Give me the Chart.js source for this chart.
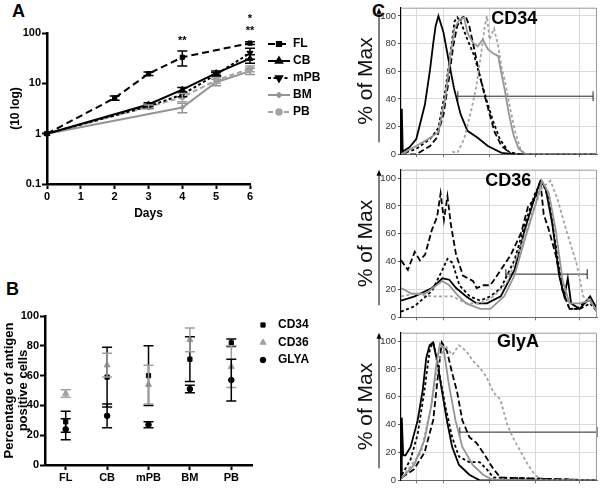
<!DOCTYPE html>
<html>
<head>
<meta charset="utf-8">
<script src="https://cdn.jsdelivr.net/npm/chart.js@4.4.1/dist/chart.umd.min.js"></script>
<style>
  body { margin: 0; width: 600px; height: 488px; background: #fff; position: relative; overflow: hidden;
         font-family: "Liberation Sans", Arial, sans-serif; }
  canvas { position: absolute; }
  .tag { position: absolute; font-weight: bold; font-size: 18px; line-height: 18px; }
</style>
</head>
<body>
<div class="tag" style="left:12px;top:2px">A</div>
<div class="tag" style="left:6px;top:280px">B</div>
<div class="tag" style="left:372px;top:2px">C</div>
<canvas id="chartA" width="340" height="240" style="left:0;top:0"></canvas>
<canvas id="chartB" width="340" height="208" style="left:0;top:280px"></canvas>
<canvas id="chartC1" width="245" height="162" style="left:355px;top:0"></canvas>
<canvas id="chartC2" width="245" height="163" style="left:355px;top:162px"></canvas>
<canvas id="chartC3" width="245" height="163" style="left:355px;top:325px"></canvas>
<script>
// ---- panel A : fold expansion (log) ----
const flDays = [0, 2, 3, 4, 6];
const flFold = [1, 5.1, 15.5, 33, 63];
const flErr = [0, 0.5, 1.2, 11, 4];
const cbDays = [0, 3, 4, 5, 6];
const cbFold = [1, 3.8, 7.5, 16, 31];
const cbErr = [0, 0.3, 0.8, 1.5, 6];
const mpbDays = [0, 3, 4, 5, 6];
const mpbFold = [1, 3.5, 6, 15, 40];
const mpbErr = [0, 0.3, 0.6, 1.5, 10];
const bmDays = [0, 4, 5, 6];
const bmFold = [1, 3.3, 10.5, 17.5];
const bmErr = [0, 0.7, 1.5, 2.5];
const pbDays = [0, 3, 4, 5, 6];
const pbFold = [1, 3.4, 5.3, 11.5, 19.5];
const pbErr = [0, 0.3, 1, 1.5, 2.5];
const yTicksA = [0.1, 1, 10, 100];
const starDays = [4, 6, 6];
const starText = ["**", "*", "**"];
const starLevel = [70, 190, 108];

// ---- panel B : antigen positive cells ----
const sources = ["FL", "CB", "mPB", "BM", "PB"];
const cd34Pct = [29, 59, 60, 71, 82];
const cd34Sd = [7, 20, 20, 15, 2.5];
const cd36Pct = [48, 67, 54, 84, 66];
const cd36Sd = [2.5, 8, 13, 8, 14];
const glyaPct = [24, 33, 27, 51, 57];
const glyaSd = [7, 8, 2, 2.5, 14];

// ---- panel C : histograms (% of max) ----
const gridC = [8, 21.5, 45, 68.5, 91];
const yTicksC = [0, 20, 40, 60, 80, 100];

const cd34SolidX = [0, 0.4, 0.9, 4.3, 7.8, 12.2, 14.8, 16.5, 17.7, 19.1, 21.7, 24.3, 27, 30.4, 33.9, 39.1, 44.3, 51.3, 58.3, 65.2, 100];
const cd34SolidY = [1, 33, 2, 5, 11, 36, 61, 81, 93, 100, 88, 68, 48, 29, 17, 12, 6, 1, 0, 0, 0];
const cd34LongX = [0, 7.8, 14.8, 18.3, 21.7, 24.3, 26.6, 28.7, 31.3, 33, 34.8, 37.4, 40, 42.6, 45.2, 47.8, 51.3, 56.5, 61.7, 100];
const cd34LongY = [0, 0, 6, 12, 29, 53, 78, 93, 99, 100, 93, 76, 58, 43, 29, 16, 6, 0, 0, 0];
const cd34ShortX = [0, 7.8, 14.8, 19.1, 22.6, 25.2, 27.3, 28.7, 30.4, 33.9, 37.4, 40.9, 44.3, 47, 50.4, 54.8, 60, 100];
const cd34ShortY = [0, 4, 11, 19, 46, 73, 96, 99, 96, 83, 71, 53, 36, 24, 11, 2, 0, 0];
const cd34GreyX = [0, 7.8, 13.9, 19.1, 22.6, 25.2, 27.3, 29.6, 32.2, 33.9, 36.5, 39.1, 41.7, 44.3, 47, 49.6, 51.3, 53, 54.8, 57.4, 60, 63.5, 72.2, 100];
const cd34GreyY = [0, 6, 11, 16, 41, 71, 91, 97, 99, 88, 81, 78, 83, 76, 73, 71, 58, 46, 31, 14, 4, 0, 0, 0];
const cd34GreyDashX = [26.1, 28.7, 32.2, 35.7, 38.3, 40.9, 42.6, 43.8, 45.2, 47.5, 49.6, 51.3, 53, 55.7, 58.3, 60.9, 63.5, 100];
const cd34GreyDashY = [2, 1, 11, 31, 48, 73, 91, 100, 83, 91, 78, 63, 53, 33, 16, 4, 0, 0];
const cd34Gate = [29, 98, 42];

const cd36LongX = [0, 3.5, 7, 9.6, 12.3, 15.8, 18.4, 20.2, 21.9, 23.7, 25.4, 28.1, 31.6, 36.8, 38.6, 42.1, 45.6, 50.9, 56.1, 61.4, 64.9, 68.4, 71.1, 72.8, 75.4, 78.9, 82.5, 86, 89.5, 93, 96.5, 100];
const cd36LongY = [41, 34, 47, 41, 45, 63, 72, 89, 70, 87, 67, 45, 30, 26, 21, 23, 23, 34, 45, 61, 80, 85, 98, 74, 63, 45, 19, 6, 6, 10, 12, 4];
const cd36ShortX = [0, 7, 15.8, 21.1, 23.7, 26.3, 29.8, 35.1, 40.4, 45.6, 50.9, 57.9, 63.2, 68.4, 71.9, 75.4, 78.9, 82.5, 86, 91.2, 96.5, 100];
const cd36ShortY = [4, 8, 19, 34, 42, 39, 23, 15, 12, 15, 21, 41, 67, 89, 98, 85, 52, 19, 6, 6, 10, 4];
const cd36SolidX = [0, 7, 15.8, 21.1, 24.6, 28.1, 33.3, 38.6, 43.9, 50.9, 57.9, 63.2, 68.4, 71.1, 73.7, 77.2, 80.7, 83.3, 85.1, 86.8, 91.2, 96.5, 100];
const cd36SolidY = [12, 15, 21, 28, 27, 21, 15, 10, 10, 15, 34, 63, 87, 98, 93, 67, 30, 15, 28, 10, 6, 15, 6];
const cd36GreyX = [0, 5.3, 12.3, 21.1, 24.6, 28.1, 33.3, 40.4, 45.6, 52.6, 57.9, 63.2, 68.4, 71.9, 75.4, 78.9, 82.5, 86, 91.2, 96.5, 100];
const cd36GreyY = [21, 17, 17, 26, 23, 17, 10, 6, 6, 15, 30, 56, 80, 98, 89, 63, 26, 10, 10, 12, 4];
const cd36GreyDashX = [0, 7, 15.8, 26.3, 33.3, 40.4, 47.4, 54.4, 61.4, 66.7, 71.9, 76.3, 79.8, 84.2, 89.5, 93, 96.5, 100];
const cd36GreyDashY = [15, 17, 15, 15, 10, 10, 15, 26, 52, 74, 93, 98, 85, 63, 39, 15, 12, 4];
const cd36Gate = [53.5, 95, 31];

const glyaSolidX = [0, 0.4, 1.1, 2.3, 4.9, 8.5, 11.1, 12.9, 14.6, 16.4, 18.1, 20.8, 23.4, 26.1, 29.6, 34.9, 40.1, 100];
const glyaSolidY = [2, 45, 18, 18, 24, 43, 65, 88, 97, 99, 88, 65, 43, 24, 11, 4, 0, 0];
const glyaShortX = [0.5, 4.9, 8.5, 12, 14.8, 16.5, 19, 22.5, 26.1, 29.6, 34.9, 40.1, 43.7, 47.2, 100];
const glyaShortY = [4, 15, 33, 65, 95, 99, 81, 54, 31, 17, 13, 13, 8, 2, 0];
const glyaGreyX = [0.5, 6.7, 12, 15.5, 18.1, 19.9, 21.7, 24.3, 27.8, 31.3, 36.6, 41.9, 47.2, 100];
const glyaGreyY = [2, 11, 29, 54, 84, 98, 95, 70, 43, 24, 11, 4, 0, 0];
const glyaLongX = [0.5, 6.7, 12, 16.4, 19, 20.8, 23.4, 26.1, 28.7, 31.3, 34.9, 38.4, 42.8, 47.2, 50.7, 100];
const glyaLongY = [2, 8, 20, 43, 77, 99, 93, 77, 63, 43, 31, 27, 18, 8, 2, 0];
const glyaGreyDashX = [0.5, 10.2, 15.5, 19, 22.5, 26.1, 29.6, 33.1, 36.6, 40.1, 43.7, 47.2, 50.7, 54.2, 57.7, 61.3, 64.8, 68.3, 71.8, 100];
const glyaGreyDashY = [2, 20, 54, 84, 97, 90, 97, 93, 86, 81, 74, 63, 58, 40, 29, 20, 11, 4, 0, 0];
const glyaGate = [30, 100, 34.6];

const fontName = "'Liberation Sans', Arial, sans-serif";
Chart.defaults.font.family = fontName;
Chart.defaults.color = "#000";
Chart.defaults.animation = false;

const black = "#000";
const grey = "#959595";
const greyDash = "#a3a3a3";
const longDash = [6, 3];
const shortDash = [3, 2.5];

const toPts = (xs, ys) => xs.map((x, i) => ({ x: x, y: ys[i] }));

// vertical error bars from ds.errors
const errorBars = {
  id: "errorBars",
  afterDatasetsDraw(chart) {
    const ctx = chart.ctx;
    const ys = chart.scales.y;
    chart.data.datasets.forEach((ds, i) => {
      if (!ds.errors) return;
      const meta = chart.getDatasetMeta(i);
      ctx.save();
      ctx.strokeStyle = ds.borderColor;
      ctx.lineWidth = 1.5;
      ctx.setLineDash([]);
      meta.data.forEach((pt, j) => {
        const e = ds.errors[j];
        if (!e) return;
        const raw = ds.data[j];
        const v = typeof raw === "object" ? raw.y : raw;
        const top = ys.getPixelForValue(v + e);
        const bot = ys.getPixelForValue(v - e);
        ctx.beginPath();
        ctx.moveTo(pt.x, top); ctx.lineTo(pt.x, bot);
        ctx.moveTo(pt.x - 5, top); ctx.lineTo(pt.x + 5, top);
        ctx.moveTo(pt.x - 5, bot); ctx.lineTo(pt.x + 5, bot);
        ctx.stroke();
      });
      ctx.restore();
    });
  }
};

// legend drawn beside the plot, with line sample + marker
const sideLegend = {
  id: "sideLegend",
  afterDraw(chart, args, opts) {
    const ctx = chart.ctx;
    ctx.save();
    chart.data.datasets.forEach((ds, i) => {
      const y = opts.y + i * opts.gap;
      if (opts.lineLen) {
        ctx.strokeStyle = ds.borderColor;
        ctx.lineWidth = 2;
        ctx.setLineDash(ds.borderDash || []);
        ctx.beginPath();
        ctx.moveTo(opts.x, y); ctx.lineTo(opts.x + opts.lineLen, y);
        ctx.stroke();
        ctx.setLineDash([]);
      }
      ctx.fillStyle = ds.pointBackgroundColor;
      ctx.strokeStyle = ds.pointBorderColor;
      Chart.helpers.drawPoint(ctx, {
        pointStyle: ds.pointStyle, rotation: ds.pointRotation || 0,
        radius: ds.pointRadius, borderWidth: 1
      }, opts.x + (opts.lineLen || 0) / 2, y);
      ctx.fillStyle = "#000";
      ctx.font = "bold 12px " + fontName;
      ctx.textBaseline = "middle";
      ctx.textAlign = "left";
      ctx.fillText(ds.label, opts.textX, y);
    });
    ctx.restore();
  }
};

// significance stars of panel A
const stars = {
  id: "stars",
  afterDraw(chart) {
    const ctx = chart.ctx;
    ctx.save();
    ctx.font = "bold 11px " + fontName;
    ctx.textAlign = "center";
    ctx.textBaseline = "middle";
    ctx.fillStyle = "#000";
    starDays.forEach((d, i) => {
      ctx.fillText(starText[i], chart.scales.x.getPixelForValue(d), chart.scales.y.getPixelForValue(starLevel[i]));
    });
    ctx.restore();
  }
};

function seriesA(label, days, fold, err, color, dash, style, radius, rot) {
  return {
    label: label,
    data: toPts(days, fold),
    errors: err,
    borderColor: color,
    borderDash: dash,
    borderWidth: 2,
    pointStyle: style,
    pointRadius: radius,
    pointRotation: rot || 0,
    pointBackgroundColor: color,
    pointBorderColor: color,
    pointBorderWidth: 1,
    tension: 0,
    clip: false
  };
}

new Chart(document.getElementById("chartA"), {
  type: "line",
  data: {
    datasets: [
      seriesA("FL", flDays, flFold, flErr, black, [7, 4], "rect", 3),
      seriesA("CB", cbDays, cbFold, cbErr, black, [], "triangle", 3.5),
      seriesA("mPB", mpbDays, mpbFold, mpbErr, black, [3, 2.5], "triangle", 3.5, 180),
      seriesA("BM", bmDays, bmFold, bmErr, grey, [], "rectRot", 2.2),
      seriesA("PB", pbDays, pbFold, pbErr, greyDash, [5, 3], "circle", 2.7)
    ]
  },
  options: {
    responsive: false,
    layout: { autoPadding: false, padding: { top: 33, right: 90, left: 0, bottom: 0 } },
    plugins: {
      legend: { display: false },
      tooltip: { enabled: false },
      sideLegend: { x: 268, lineLen: 22, textX: 293, y: 44, gap: 17 }
    },
    scales: {
      x: {
        type: "linear", min: 0, max: 6,
        afterFit: (s) => { s.height = 56; },
        ticks: { stepSize: 1, padding: 1, font: { size: 11, weight: "bold" } },
        grid: { drawOnChartArea: false, tickLength: 5, tickWidth: 2, tickColor: "#000" },
        border: { color: "#000", width: 2.5 },
        title: { display: true, text: "Days", font: { size: 12, weight: "bold" }, padding: { top: 0, bottom: 19 } }
      },
      y: {
        type: "logarithmic", min: 0.1, max: 100,
        afterFit: (s) => { s.width = 47; },
        afterBuildTicks: (s) => { s.ticks = yTicksA.map((v) => ({ value: v })); },
        ticks: { padding: 1, font: { size: 11, weight: "bold" }, callback: (v) => String(v) },
        grid: { drawOnChartArea: false, tickLength: 5, tickWidth: 2, tickColor: "#000" },
        border: { color: "#000", width: 2.5 },
        title: { display: true, text: "(10 log)", font: { size: 12, weight: "bold" }, padding: { top: 8 } }
      }
    }
  },
  plugins: [errorBars, sideLegend, stars]
});

function seriesB(label, vals, sd, color, style, radius) {
  return {
    label: label,
    data: vals,
    errors: sd,
    showLine: false,
    borderColor: color,
    pointStyle: style,
    pointRadius: radius,
    pointBackgroundColor: color,
    pointBorderColor: color,
    pointBorderWidth: 1,
    clip: false
  };
}

new Chart(document.getElementById("chartB"), {
  type: "line",
  data: {
    labels: sources,
    datasets: [
      seriesB("CD34", cd34Pct, cd34Sd, black, "rect", 3),
      seriesB("CD36", cd36Pct, cd36Sd, "#a0a0a0", "triangle", 3.5),
      seriesB("GLYA", glyaPct, glyaSd, black, "circle", 2.8)
    ]
  },
  options: {
    responsive: false,
    layout: { autoPadding: false, padding: { top: 36, right: 88, left: 0, bottom: 0 } },
    plugins: {
      legend: { display: false },
      tooltip: { enabled: false },
      sideLegend: { x: 263, lineLen: 0, textX: 278, y: 45, gap: 17.5 }
    },
    scales: {
      x: {
        type: "category", offset: true,
        afterFit: (s) => { s.height = 23; },
        ticks: { padding: 1, font: { size: 11, weight: "bold" } },
        grid: { offset: false, drawOnChartArea: false, tickLength: 5, tickWidth: 2, tickColor: "#000" },
        border: { color: "#000", width: 2.5 }
      },
      y: {
        min: 0, max: 100,
        afterFit: (s) => { s.width = 45; },
        ticks: { stepSize: 20, padding: 1, font: { size: 11, weight: "bold" } },
        grid: { drawOnChartArea: false, tickLength: 5, tickWidth: 2, tickColor: "#000" },
        border: { color: "#000", width: 2.5 },
        title: {
          display: true, text: ["Percentage of antigen", "positive cells"],
          font: { size: 13, weight: "bold", lineHeight: 1.05 }, padding: { top: 3 }
        }
      }
    }
  },
  plugins: [errorBars, sideLegend]
});

// frame, y-title arrow and marker label of the histograms
const histDecor = {
  id: "histDecor",
  afterDraw(chart, args, opts) {
    const ctx = chart.ctx;
    const a = chart.chartArea;
    ctx.save();
    ctx.strokeStyle = "#9a9a9a";
    ctx.lineWidth = 1;
    ctx.beginPath();
    ctx.moveTo(a.left, a.top + 0.5); ctx.lineTo(a.right - 0.5, a.top + 0.5); ctx.lineTo(a.right - 0.5, a.bottom);
    ctx.stroke();
    ctx.strokeStyle = "#000";
    ctx.fillStyle = "#000";
    ctx.beginPath();
    ctx.moveTo(24, a.bottom - 12); ctx.lineTo(24, a.top + 4);
    ctx.stroke();
    ctx.beginPath();
    ctx.moveTo(24, a.top); ctx.lineTo(21.5, a.top + 6); ctx.lineTo(26.5, a.top + 6);
    ctx.closePath(); ctx.fill();
    ctx.font = "bold 18px " + fontName;
    ctx.textAlign = "left";
    ctx.textBaseline = "middle";
    ctx.fillText(opts.text, chart.scales.x.getPixelForValue(opts.x), chart.scales.y.getPixelForValue(opts.y));
    ctx.restore();
  }
};

function curve(xs, ys, color, dash) {
  return { data: toPts(xs, ys), borderColor: color, borderDash: dash, borderWidth: 1.8,
           pointRadius: 0, tension: 0, fill: false };
}

function histChart(id, curves, gate, label, padTop, axisH) {
  const gateDs = {
    data: [{ x: gate[0], y: gate[2] }, { x: gate[1], y: gate[2] }],
    borderColor: "#222", borderWidth: 1, pointStyle: "line", pointRotation: 90,
    pointRadius: 5, pointBorderWidth: 1, pointBorderColor: "#222", clip: false
  };
  return new Chart(document.getElementById(id), {
    type: "line",
    data: { datasets: curves.concat([gateDs]) },
    options: {
      responsive: false,
      layout: { autoPadding: false, padding: { top: padTop, right: 3, left: 0, bottom: 0 } },
      plugins: { legend: { display: false }, tooltip: { enabled: false }, histDecor: label },
      scales: {
        x: {
          type: "linear", min: 0, max: 100,
          afterFit: (s) => { s.height = axisH; },
          afterBuildTicks: (s) => { s.ticks = gridC.map((v) => ({ value: v })); },
          ticks: { display: false },
          grid: { color: "#dadada", tickLength: 3, tickColor: "#777" },
          border: { color: "#666", width: 1 }
        },
        y: {
          min: 0, max: 106,
          afterFit: (s) => { s.width = 46; },
          afterBuildTicks: (s) => { s.ticks = yTicksC.map((v) => ({ value: v })); },
          ticks: { padding: 2, color: "#333", font: { size: 9.5 } },
          grid: { color: (c) => (c.tick && c.tick.value === 0 ? "rgba(0,0,0,0)" : "#dadada"), tickLength: 3, tickColor: "#555" },
          border: { color: "#000", width: 1.2 },
          title: { display: true, text: "% of Max", color: "#111",
                   font: { size: 21, weight: "normal", lineHeight: 1 }, padding: { top: 0.5 } }
        }
      }
    },
    plugins: [histDecor]
  });
}

histChart("chartC1", [
  curve(cd34GreyX, cd34GreyY, grey, []),
  curve(cd34GreyDashX, cd34GreyDashY, greyDash, shortDash),
  curve(cd34SolidX, cd34SolidY, black, []),
  curve(cd34LongX, cd34LongY, black, longDash),
  curve(cd34ShortX, cd34ShortY, black, shortDash)
], cd34Gate, { text: "CD34", x: 46, y: 98 }, 5, 5);

histChart("chartC2", [
  curve(cd36GreyX, cd36GreyY, grey, []),
  curve(cd36GreyDashX, cd36GreyDashY, greyDash, shortDash),
  curve(cd36SolidX, cd36SolidY, black, []),
  curve(cd36LongX, cd36LongY, black, longDash),
  curve(cd36ShortX, cd36ShortY, black, shortDash)
], cd36Gate, { text: "CD36", x: 43, y: 98 }, 1, 3);

histChart("chartC3", [
  curve(glyaGreyX, glyaGreyY, grey, []),
  curve(glyaGreyDashX, glyaGreyDashY, greyDash, shortDash),
  curve(glyaSolidX, glyaSolidY, black, []),
  curve(glyaLongX, glyaLongY, black, longDash),
  curve(glyaShortX, glyaShortY, black, shortDash)
], glyaGate, { text: "GlyA", x: 49, y: 99 }, 3, 6);
</script>
</body>
</html>
